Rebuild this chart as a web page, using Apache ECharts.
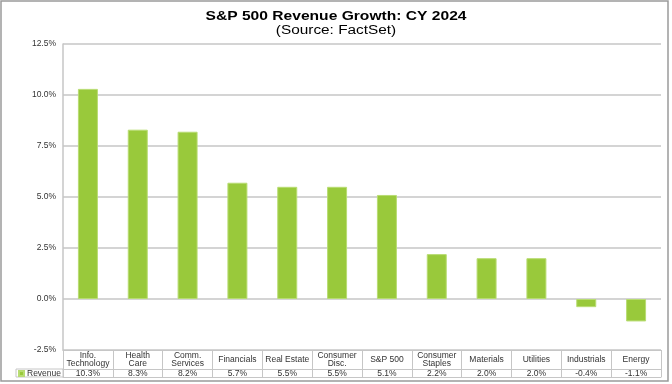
<!DOCTYPE html>
<html>
<head>
<meta charset="utf-8">
<script src="https://cdn.jsdelivr.net/npm/echarts@6/dist/echarts.min.js"></script>
<style>
html,body{margin:0;padding:0;background:#fff;}
#c{width:672px;height:384px;}
</style>
</head>
<body>
<div id="c"></div>
<script>
const categories = ["Info.\nTechnology","Health\nCare","Comm.\nServices","Financials","Real Estate","Consumer\nDisc.","S&P 500","Consumer\nStaples","Materials","Utilities","Industrials","Energy"];
const revenue = [10.3, 8.3, 8.2, 5.7, 5.5, 5.5, 5.1, 2.2, 2.0, 2.0, -0.4, -1.1];
const yTicks = {min: -2.5, max: 12.5, interval: 2.5};
const titleText = 'S&P 500 Revenue Growth: CY 2024';
const subtitleText = '(Source: FactSet)';

const FONT = '"Liberation Sans", Arial, sans-serif';
const GRID = '#c6c6c6';
const TXT = '#333333';
const GREEN = '#99c93b';

const chart = echarts.init(document.getElementById('c'), null, {renderer: 'canvas'});
chart.setOption({
  animation: false,
  backgroundColor: '#fff',
  textStyle: {fontFamily: FONT},
  legend: {
    data: ['Revenue'], left: 18, top: 369, padding: 0,
    icon: 'rect', itemWidth: 5, itemHeight: 5, itemGap: 0,
    textStyle: {fontFamily: FONT, fontSize: 8.5, color: TXT, padding: [0,0,0,-2]}
  },
  grid: {left: 63, right: 11, top: 44, bottom: 34, containLabel: false},
  xAxis: [{
    type: 'category', data: categories, position: 'bottom',
    axisLine: {show: true, onZero: false, lineStyle: {color: GRID, width: 1}},
    axisTick: {show: true, length: 27, interval: 0, lineStyle: {color: GRID, width: 1}},
    axisLabel: {interval: 0, fontSize: 8.5, lineHeight: 8.5, color: TXT, margin: 9.5, verticalAlign: 'middle', fontFamily: FONT},
    splitLine: {show: false}
  }, {
    type: 'category', data: revenue.map(v => v.toFixed(1) + '%'), position: 'bottom', offset: 19,
    axisLine: {show: true, onZero: false, lineStyle: {color: GRID, width: 1}},
    axisTick: {show: false},
    axisLabel: {interval: 0, fontSize: 8.5, color: TXT, margin: 4.5, verticalAlign: 'middle', fontFamily: FONT}
  }, {
    type: 'category', data: categories, position: 'bottom', offset: 27,
    axisLine: {show: true, onZero: false, lineStyle: {color: GRID, width: 1}},
    axisTick: {show: false}, axisLabel: {show: false}
  }],
  yAxis: {
    type: 'value', min: yTicks.min, max: yTicks.max, interval: yTicks.interval,
    axisLine: {show: true, lineStyle: {color: GRID, width: 1.5}},
    axisTick: {show: false},
    axisLabel: {formatter: v => v.toFixed(1) + '%', fontSize: 8.5, color: TXT, margin: 7, fontFamily: FONT},
    splitLine: {show: true, lineStyle: {color: GRID, width: 1.5}}
  },
  series: [{
    name: 'Revenue', type: 'bar', data: revenue, xAxisIndex: 0, barWidth: 20,
    itemStyle: {color: GREEN, borderColor: '#b8dc72', borderWidth: 1}
  }],
  graphic: [
    {type: 'rect', shape: {x: 1, y: 1, width: 667, height: 380}, style: {fill: 'none', stroke: '#9a9a9a', lineWidth: 1.5}, silent: true},
    {type: 'rect', shape: {x: 16, y: 369, width: 47, height: 8}, style: {fill: 'none', stroke: GRID, lineWidth: 1}, silent: true},
    {type: 'text', x: 336, y: 16, scaleX: 1.2, silent: true,
     style: {text: titleText, textAlign: 'center', textVerticalAlign: 'middle', font: 'bold 13px ' + FONT, fill: '#000'}},
    {type: 'text', x: 336, y: 31, scaleX: 1.28, silent: true,
     style: {text: subtitleText, textAlign: 'center', textVerticalAlign: 'middle', font: '12px ' + FONT, fill: '#000'}}
  ]
});
</script>
</body>
</html>
